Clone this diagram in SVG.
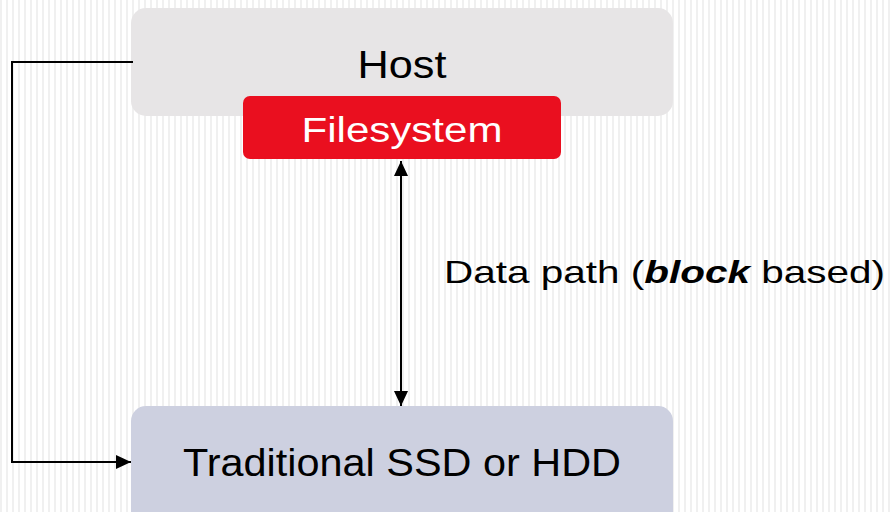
<svg xmlns="http://www.w3.org/2000/svg" width="890" height="512" viewBox="0 0 890 512">
  <defs>
    <pattern id="stripes" width="6" height="10" patternUnits="userSpaceOnUse">
      <rect width="6" height="10" fill="#ffffff"/>
      <rect x="0" width="2" height="10" fill="#f0f0f0"/>
    </pattern>
    <marker id="arrow" viewBox="0 0 15 14" refX="15" refY="7" markerWidth="15" markerHeight="14" markerUnits="userSpaceOnUse" orient="auto-start-reverse">
      <path d="M0,0 L15,7 L0,14 Z" fill="#000"/>
    </marker>
    <style>
      .lbl { font-family: "Liberation Sans", Arial, sans-serif; text-anchor: middle; }
      .wire { fill: none; stroke: #000; stroke-width: 2; }
    </style>
  </defs>

  <rect width="890" height="512" fill="url(#stripes)"/>

  <g id="host">
    <rect x="131" y="8" width="542" height="108" rx="15" fill="#e7e5e6"/>
    <text class="lbl" x="402" y="78" font-size="39" fill="#000" textLength="89" lengthAdjust="spacingAndGlyphs">Host</text>
  </g>

  <g id="filesystem">
    <rect x="243" y="96" width="318" height="63" rx="7" fill="#ea0f1f"/>
    <text class="lbl" x="402" y="142" font-size="35" fill="#fff" textLength="201" lengthAdjust="spacingAndGlyphs">Filesystem</text>
  </g>

  <g id="device">
    <rect x="131" y="406" width="542" height="130" rx="15" fill="#cdd0e0"/>
    <text class="lbl" x="402" y="476" font-size="38" fill="#000" textLength="438" lengthAdjust="spacingAndGlyphs">Traditional SSD or HDD</text>
  </g>

  <g id="connectors">
    <polyline class="wire" points="133,62 12,62 12,462 131,462" marker-end="url(#arrow)"/>
    <line class="wire" x1="401" y1="161" x2="401" y2="406" marker-start="url(#arrow)" marker-end="url(#arrow)"/>
    <text x="444" y="283" font-family="Liberation Sans, Arial, sans-serif" font-size="32" fill="#000" textLength="441" lengthAdjust="spacingAndGlyphs">Data path (<tspan font-weight="bold" font-style="italic">block</tspan> based)</text>
  </g>
</svg>
